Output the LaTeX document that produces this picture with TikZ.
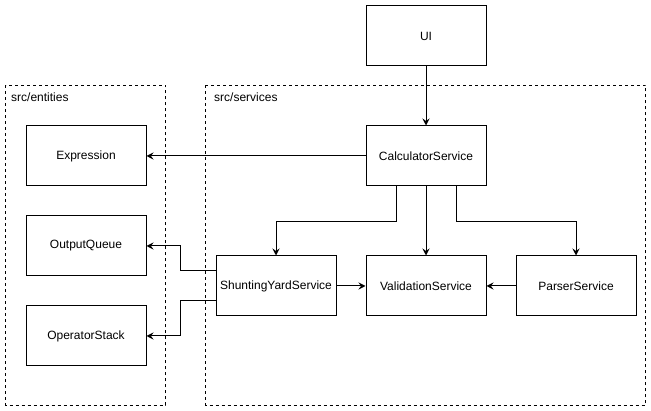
\documentclass[tikz,border=0pt]{standalone}
\usepackage{fontspec}
\setmainfont{Liberation Sans}
\usetikzlibrary{arrows.meta}
\begin{document}
\begin{tikzpicture}[x=1pt,y=-1pt,
  box/.style={draw=black,line width=1pt,minimum width=120pt,minimum height=60pt,inner sep=0pt,font=\fontsize{12pt}{14pt}\selectfont,anchor=north west},
  grp/.style={draw=black,line width=1pt,dash pattern=on 3pt off 3pt},
  grplabel/.style={font=\fontsize{12pt}{14pt}\selectfont,anchor=west,inner sep=0pt},
  conn/.style={line width=1pt,-{Stealth[length=7pt,width=7pt,inset=2.5pt]}}]
\useasboundingbox (0,0) rectangle (651,411);
\fill[white] (0,0) rectangle (651,411);
% groups
\draw[grp] (5.5,85.5) rectangle (165.5,405.5);
\draw[grp] (205.5,85.5) rectangle (645.5,405.5);
\node[grplabel] (lent) at (11,97) {src/entities};
\node[grplabel] (lsrv) at (214,97) {src/services};
% nodes
\node[box] (ui) at (365.5,5.5) {UI};
\node[box] (calc) at (365.5,125.5) {CalculatorService};
\node[box] (expr) at (25.5,125.5) {Expression};
\node[box] (oq) at (25.5,215.5) {OutputQueue};
\node[box] (os) at (25.5,305.5) {OperatorStack};
\node[box] (sys) at (215.5,255.5) {ShuntingYardService};
\node[box] (val) at (365.5,255.5) {ValidationService};
\node[box] (par) at (515.5,255.5) {ParserService};
% connectors
\draw[conn] (ui.south) -- (calc.north);
\draw[conn] (calc.west) -- (expr.east);
\draw[conn] ([xshift=-30pt]calc.south) -- ++(0,35) -| (sys.north);
\draw[conn] (calc.south) -- (val.north);
\draw[conn] ([xshift=30pt]calc.south) -- ++(0,35) -| (par.north);
\draw[conn] (sys.east) -- (val.west);
\draw[conn] (par.west) -- (val.east);
\draw[conn] ([yshift=15pt]sys.west) -- ++(-35,0) |- (oq.east);
\draw[conn] ([yshift=-15pt]sys.west) -- ++(-35,0) |- (os.east);
\end{tikzpicture}
\end{document}
